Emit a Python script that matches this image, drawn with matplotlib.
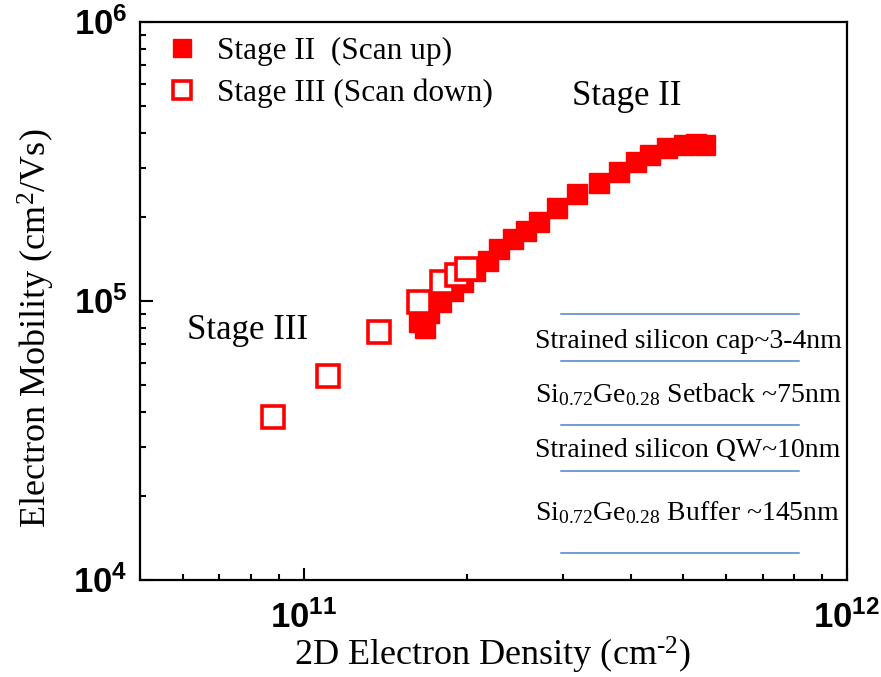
import math
import matplotlib
matplotlib.use("Agg")
import matplotlib.pyplot as plt
from matplotlib.ticker import LogLocator, NullFormatter, FuncFormatter

# Stage II (scan up), filled squares
stage2_x = [1.670e11, 1.628e11, 1.699e11, 1.788e11, 1.881e11, 1.963e11, 2.065e11,
            2.182e11, 2.286e11, 2.426e11, 2.563e11, 2.709e11, 2.924e11, 3.183e11,
            3.494e11, 3.803e11, 4.088e11, 4.338e11, 4.661e11, 5.010e11, 5.272e11,
            5.477e11]
stage2_y = [7.97e4, 8.44e4, 9.02e4, 9.88e4, 1.082e5, 1.165e5, 1.276e5,
            1.386e5, 1.531e5, 1.663e5, 1.777e5, 1.913e5, 2.149e5, 2.412e5,
            2.642e5, 2.893e5, 3.143e5, 3.330e5, 3.528e5, 3.616e5, 3.646e5,
            3.616e5]

# Stage III (scan down), open squares
stage3_x = [8.77e10, 1.107e11, 1.374e11, 1.628e11, 1.796e11, 1.913e11, 1.996e11]
stage3_y = [3.85e4, 5.40e4, 7.77e4, 9.88e4, 1.165e5, 1.235e5, 1.30e5]

legend_labels = ["Stage II  (Scan up)", "Stage III (Scan down)"]
layer_labels = ["Strained silicon cap~3-4nm",
                "Si$_{0.72}$Ge$_{0.28}$ Setback ~75nm",
                "Strained silicon QW~10nm",
                "Si$_{0.72}$Ge$_{0.28}$ Buffer ~145nm"]

plt.rcParams["font.family"] = ["Liberation Serif", "DejaVu Serif"]
plt.rcParams["mathtext.fontset"] = "custom"
plt.rcParams["mathtext.rm"] = "Liberation Serif"
plt.rcParams["mathtext.it"] = "Liberation Serif:italic"
plt.rcParams["mathtext.bf"] = "Liberation Sans:bold"

fig = plt.figure(figsize=(8.81, 6.77), dpi=100)
ax = fig.add_axes([0.1589, 0.1433, 0.8025, 0.8242])

red = "#ff0000"
ax.plot(stage2_x, stage2_y, ls="none", marker="s", ms=15, mfc=red, mec=red,
        mew=1, label=legend_labels[0])
ax.plot(stage3_x, stage3_y, ls="none", marker="s", ms=15.5, mfc="white", mec=red,
        mew=2.6, label=legend_labels[1])

ax.set_xscale("log")
ax.set_yscale("log")
ax.set_xlim(5e10, 1e12)
ax.set_ylim(1e4, 1e6)

def pow10(v, pos):
    if v <= 0:
        return ""
    e = int(round(math.log10(v)))
    return r"$\mathbf{10^{%d}}$" % e

for axis in (ax.xaxis, ax.yaxis):
    axis.set_major_locator(LogLocator(base=10, numticks=10))
    axis.set_minor_locator(LogLocator(base=10, subs=range(2, 10), numticks=20))
    axis.set_major_formatter(FuncFormatter(pow10))
    axis.set_minor_formatter(NullFormatter())

ax.tick_params(which="both", direction="in", top=False, right=False,
               labelsize=25, width=1.5)
ax.tick_params(which="major", length=9)
ax.tick_params(which="minor", length=4.5)
ax.tick_params(axis="y", pad=9)
ax.tick_params(axis="x", pad=15)
for s in ax.spines.values():
    s.set_linewidth(1.6)

ax.set_xlabel(r"2D Electron Density (cm$^{\text{-}2}$)", fontsize=26)
ax.set_ylabel("Electron Mobility (cm$^{2}$/Vs)", fontsize=26)
ax.xaxis.set_label_coords(0.498, -0.099)
ax.yaxis.set_label_coords(-0.117, 0.4516)

ax.legend(loc="upper left", bbox_to_anchor=(0.038, 0.974), frameon=False,
          fontsize=22.5, handlelength=1.0, handletextpad=0.62, labelspacing=0.42,
          borderpad=0, borderaxespad=0, markerscale=0.85)

ax.text(0.611, 0.851, "Stage II", transform=ax.transAxes, fontsize=25,
        ha="left", va="baseline")
ax.text(0.0665, 0.432, "Stage III", transform=ax.transAxes, fontsize=25,
        ha="left", va="baseline")

# layer stack sketch
for yl in [0.4767, 0.3925, 0.2778, 0.1953, 0.0484]:
    ax.plot([0.5955, 0.9321], [yl, yl], transform=ax.transAxes,
            color="#4f81bd", lw=1.1)
for lab, yb in zip(layer_labels, [0.415, 0.318, 0.221, 0.108]):
    ax.text(0.5587, yb, lab, transform=ax.transAxes, fontsize=20,
            ha="left", va="baseline")

fig.savefig("out.png", dpi=100)
